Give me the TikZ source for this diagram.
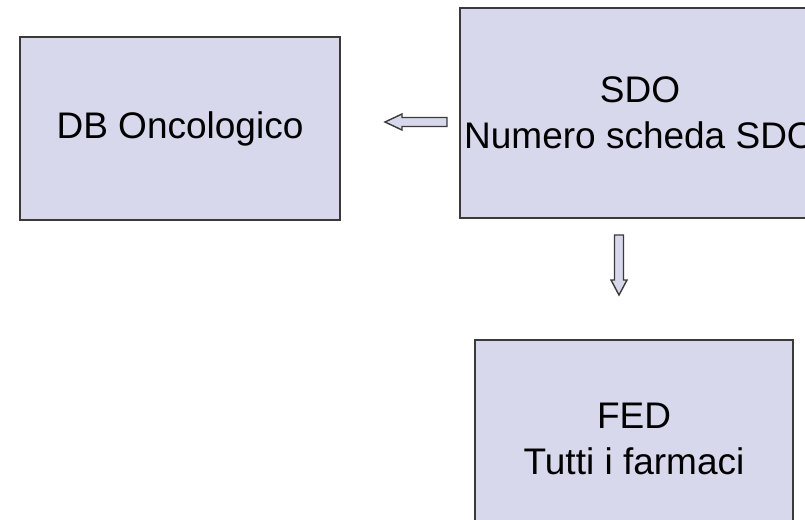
\documentclass[tikz,border=0pt]{standalone}
\usepackage{fontspec}
\setmainfont{Liberation Sans}
\definecolor{boxfill}{HTML}{D8D8EC}
\definecolor{boxline}{HTML}{3A3A3A}
\begin{document}
\begin{tikzpicture}[x=1pt,y=-1pt,
  box/.style={draw=boxline, line width=2pt, fill=boxfill, align=center,
    inner sep=0pt, font=\fontsize{37}{46}\selectfont},
  blockarrow/.style={draw=boxline, line width=1.4pt, fill=boxfill, line join=miter}]
\useasboundingbox (0,0) rectangle (805,519);
\node[box, minimum width=320pt, minimum height=183pt] (db) at (180,128.5) {DB Oncologico};
\node[box, minimum width=360pt, minimum height=210pt] (sdo) at (640,113) {SDO\\Numero scheda SDO};
\node[box, minimum width=318pt, minimum height=197pt] (fed) at (634,438.5) {FED\\Tutti i farmaci};
% left block arrow (SDO -> DB)
\draw[blockarrow] (447,117.5) -- (402,117.5) -- (402,114) -- (385,122) -- (402,130) -- (402,126.5) -- (447,126.5) -- cycle;
% down block arrow (SDO -> FED)
\draw[blockarrow] (614.5,235) -- (614.5,280) -- (611,280) -- (619,295) -- (627,280) -- (623.5,280) -- (623.5,235) -- cycle;
\end{tikzpicture}
\end{document}
